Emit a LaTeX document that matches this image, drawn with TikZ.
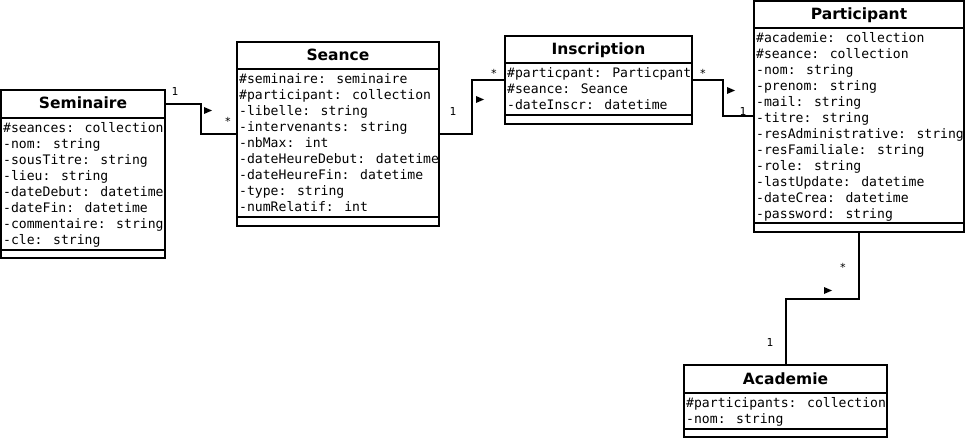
\documentclass[tikz,border=0pt]{standalone}
\usepackage{fontspec}
\newfontfamily\monof{DejaVu Sans Mono}
\newfontfamily\sansf{DejaVu Sans}
\usetikzlibrary{calc}
\begin{document}
\begin{tikzpicture}[x=1pt,y=-1pt,
  classbox/.style={draw, line width=2pt, inner sep=0pt, outer sep=0pt, anchor=north west, fill=white},
  classtitle/.style={inner sep=0pt, outer sep=0pt, anchor=north west, font=\sansf\bfseries\fontsize{15.5}{18}\selectfont, text height=10pt, text depth=0pt},
  attr/.style={inner sep=0pt, anchor=base west, font=\monof\fontsize{13.1}{16}\selectfont},
  mult/.style={inner sep=0pt, anchor=base, font=\monof\fontsize{11}{13}\selectfont},
  conn/.style={line width=2pt},
  sepline/.style={line width=2pt},
  dirmark/.style={fill=black}
]
\useasboundingbox (0,0) rectangle (965,438);

% ---------- Seminaire ----------
\node[classbox, minimum width=164pt, minimum height=168pt] (sem) at (1,90) {};
\node[classtitle, minimum width=164pt, minimum height=28pt] (semT) at (1,90) {Seminaire};
\draw[sepline] (semT.south west) -- (semT.south east);
\draw[sepline] ([yshift=8.5pt]sem.south west) -- ([yshift=8.5pt]sem.south east);
\foreach \t [count=\i from 0] in {\#seances: collection, -nom: string, -sousTitre: string, -lieu: string, -dateDebut: datetime, -dateFin: datetime, -commentaire: string, -cle: string}
  \node[attr] (sem-a\i) at (3,132.5+16*\i) {\t};

% ---------- Seance ----------
\node[classbox, minimum width=202pt, minimum height=184pt] (sea) at (237,42) {};
\node[classtitle, minimum width=202pt, minimum height=27pt] (seaT) at (237,42) {Seance};
\draw[sepline] (seaT.south west) -- (seaT.south east);
\draw[sepline] ([yshift=8.5pt]sea.south west) -- ([yshift=8.5pt]sea.south east);
\foreach \t [count=\i from 0] in {\#seminaire: seminaire, \#participant: collection, -libelle: string, -intervenants: string, -nbMax: int, -dateHeureDebut: datetime, -dateHeureFin: datetime, -type: string, -numRelatif: int}
  \node[attr] (sea-a\i) at (239,83.5+16*\i) {\t};

% ---------- Inscription ----------
\node[classbox, minimum width=187pt, minimum height=88pt] (ins) at (505,36) {};
\node[classtitle, minimum width=187pt, minimum height=27pt] (insT) at (505,36) {Inscription};
\draw[sepline] (insT.south west) -- (insT.south east);
\draw[sepline] ([yshift=8.5pt]ins.south west) -- ([yshift=8.5pt]ins.south east);
\foreach \t [count=\i from 0] in {\#particpant: Particpant, \#seance: Seance, -dateInscr: datetime}
  \node[attr] (ins-a\i) at (507,78+16*\i) {\t};

% ---------- Participant ----------
\node[classbox, minimum width=210pt, minimum height=231pt] (par) at (754,1) {};
\node[classtitle, minimum width=210pt, minimum height=27pt] (parT) at (754,1) {Participant};
\draw[sepline] (parT.south west) -- (parT.south east);
\draw[sepline] ([yshift=8.5pt]par.south west) -- ([yshift=8.5pt]par.south east);
\foreach \t [count=\i from 0] in {\#academie: collection, \#seance: collection, -nom: string, -prenom: string, -mail: string, -titre: string, -resAdministrative: string, -resFamiliale: string, -role: string, -lastUpdate: datetime, -dateCrea: datetime, -password: string}
  \node[attr] (par-a\i) at (756,42.5+16*\i) {\t};

% ---------- Academie ----------
\node[classbox, minimum width=203pt, minimum height=72pt] (aca) at (684,365) {};
\node[classtitle, minimum width=203pt, minimum height=28pt] (acaT) at (684,365) {Academie};
\draw[sepline] (acaT.south west) -- (acaT.south east);
\draw[sepline] ([yshift=8.5pt]aca.south west) -- ([yshift=8.5pt]aca.south east);
\foreach \t [count=\i from 0] in {\#participants: collection, -nom: string}
  \node[attr] (aca-a\i) at (686,407.5+16*\i) {\t};

% ---------- Connectors ----------
\draw[conn] (semT.east) -| ($(semT.east)!0.5!(sea.west)$) |- (sea.west);
\draw[conn] (sea.east) -| ($(sea.east)!0.5!(ins.west)$) |- (ins.west);
\draw[conn] (ins.east) -| ($(ins.east)!0.5!(par.west)$) |- (par.west);
\draw[conn] (par.south) |- ($(par.south)!0.5!(aca.north)$) -| (aca.north);

% multiplicities
\node[mult] (m1a) at (175,96) {1};
\node[mult] (m1b) at (228,126) {*};
\node[mult] (m2a) at (453,116) {1};
\node[mult] (m2b) at (494,78) {*};
\node[mult] (m3a) at (703,78) {*};
\node[mult] (m3b) at (743,116) {1};
\node[mult] (m4a) at (843,271) {*};
\node[mult] (m4b) at (770,346) {1};

% direction markers
\fill[dirmark] (204,107) -- (212,110.5) -- (204,114) -- cycle;
\fill[dirmark] (476,96) -- (484,99.5) -- (476,103) -- cycle;
\fill[dirmark] (727,87) -- (735,90.5) -- (727,94) -- cycle;
\fill[dirmark] (824,287) -- (832,290.5) -- (824,294) -- cycle;
\end{tikzpicture}
\end{document}
